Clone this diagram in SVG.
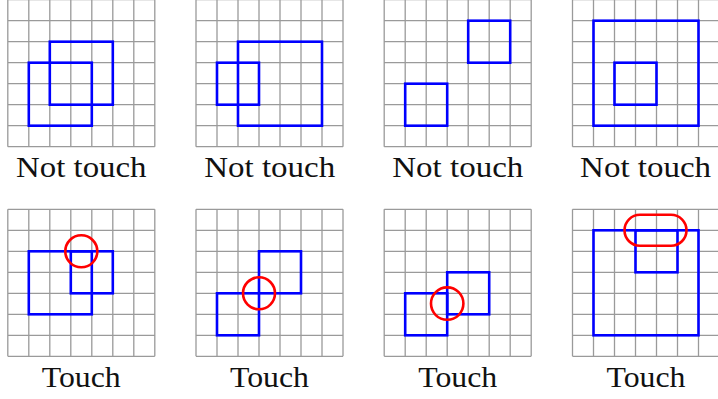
<svg xmlns="http://www.w3.org/2000/svg" xmlns:xlink="http://www.w3.org/1999/xlink" width="718" height="399" viewBox="0 0 718 399">
<style>
.grid{fill:none;stroke:#9a9a9a;stroke-width:1.3}
.b{fill:none;stroke:#0000ff;stroke-width:2.6}
.r{fill:none;stroke:#ff0000;stroke-width:2.6}
.lbl{font-family:"Liberation Serif","Times New Roman",serif;font-size:29px;fill:#111;text-anchor:middle}
</style>
<defs>
<path id="grid" class="grid" d="M0,0H147M0,21H147M0,42H147M0,63H147M0,84H147M0,105H147M0,126H147M0,147H147M0,0V147M21,0V147M42,0V147M63,0V147M84,0V147M105,0V147M126,0V147M147,0V147"/>
</defs>
<rect width="718" height="399" fill="#ffffff"/>

<g id="panel1" transform="translate(7.8,-0.3)">
<use xlink:href="#grid"/>
<rect class="b" x="21" y="63" width="63" height="63"/>
<rect class="b" x="42" y="42" width="63" height="63"/>
</g>
<g id="panel2" transform="translate(196,-0.3)">
<use xlink:href="#grid"/>
<rect class="b" x="21" y="63" width="42" height="42"/>
<rect class="b" x="42" y="42" width="84" height="84"/>
</g>
<g id="panel3" transform="translate(384.2,-0.3)">
<use xlink:href="#grid"/>
<rect class="b" x="84" y="21" width="42" height="42"/>
<rect class="b" x="21" y="84" width="42" height="42"/>
</g>
<g id="panel4" transform="translate(572.5,-0.3)">
<use xlink:href="#grid"/>
<rect class="b" x="21" y="21" width="105" height="105"/>
<rect class="b" x="42" y="63" width="42" height="42"/>
</g>

<text class="lbl" x="81.3" y="177.3" textLength="130.5" lengthAdjust="spacingAndGlyphs">Not touch</text>
<text class="lbl" x="269.7" y="177.3" textLength="131" lengthAdjust="spacingAndGlyphs">Not touch</text>
<text class="lbl" x="457.8" y="177.3" textLength="131" lengthAdjust="spacingAndGlyphs">Not touch</text>
<text class="lbl" x="645.6" y="177.3" textLength="131" lengthAdjust="spacingAndGlyphs">Not touch</text>

<g id="panel5" transform="translate(7.8,209.3)">
<use xlink:href="#grid"/>
<rect class="b" x="21" y="42" width="63" height="63"/>
<rect class="b" x="63" y="42" width="42" height="42"/>
<circle class="r" cx="73.5" cy="42" r="16"/>
</g>
<g id="panel6" transform="translate(196,209.3)">
<use xlink:href="#grid"/>
<rect class="b" x="63" y="42" width="42" height="42"/>
<rect class="b" x="21" y="84" width="42" height="42"/>
<circle class="r" cx="63" cy="84" r="16"/>
</g>
<g id="panel7" transform="translate(384.2,209.3)">
<use xlink:href="#grid"/>
<rect class="b" x="21" y="84" width="42" height="42"/>
<rect class="b" x="63" y="63" width="42" height="42"/>
<circle class="r" cx="63" cy="94.3" r="16.2"/>
</g>
<g id="panel8" transform="translate(572.5,209.3)">
<use xlink:href="#grid"/>
<rect class="b" x="21" y="21" width="105" height="105"/>
<rect class="b" x="63" y="21" width="42" height="42"/>
<rect class="r" x="52" y="5.5" width="62" height="31" rx="15.5" ry="15.5"/>
</g>

<text class="lbl" x="81.2" y="387.3" textLength="79" lengthAdjust="spacingAndGlyphs">Touch</text>
<text class="lbl" x="269.5" y="387.3" textLength="79" lengthAdjust="spacingAndGlyphs">Touch</text>
<text class="lbl" x="457.7" y="387.3" textLength="79" lengthAdjust="spacingAndGlyphs">Touch</text>
<text class="lbl" x="646" y="387.3" textLength="79" lengthAdjust="spacingAndGlyphs">Touch</text>
</svg>
